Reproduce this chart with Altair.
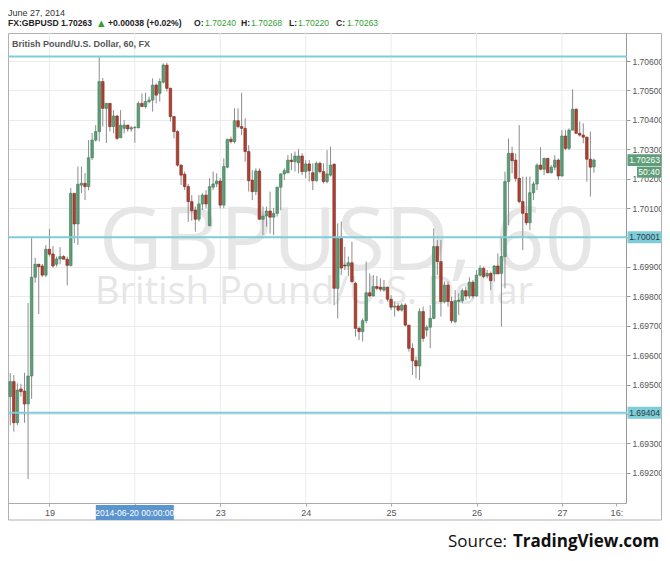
import altair as alt
import pandas as pd

# hourly candles, index = hours since 2014-06-19 00:00 (trading hours only)
hours = list(range(-11, 154))

opens = [
    1.69459, 1.69510, 1.69370, 1.69485, 1.69478, 1.69434, 1.69529, 1.69865, 1.69909, 1.69903, 1.69872,  # -11..-1
    1.69960, 1.69944, 1.69909, 1.69927, 1.69935, 1.69926, 1.69905, 1.70150, 1.70046, 1.70178,  # 0..9
    1.70184, 1.70173, 1.70271, 1.70331, 1.70360, 1.70530, 1.70439, 1.70456, 1.70377, 1.70413,  # 10..19
    1.70339, 1.70371, 1.70382, 1.70369, 1.70373, 1.70373, 1.70456, 1.70445, 1.70462, 1.70467,  # 20..29
    1.70518, 1.70490, 1.70528, 1.70586, 1.70507, 1.70411, 1.70360, 1.70246, 1.70215, 1.70173,  # 30..39
    1.70122, 1.70093, 1.70062, 1.70114, 1.70144, 1.70040, 1.70171, 1.70182, 1.70192, 1.70110,  # 40..49
    1.70239, 1.70334, 1.70326, 1.70397, 1.70377, 1.70371, 1.70292, 1.70195, 1.70156, 1.70226,  # 50..59
    1.70062, 1.70073, 1.70090, 1.70069, 1.70082, 1.70171, 1.70216, 1.70220, 1.70263, 1.70258,  # 60..69
    1.70254, 1.70277, 1.70224, 1.70250, 1.70220, 1.70193, 1.70252, 1.70224, 1.70190, 1.70212,  # 70..79
    1.70249, 1.69827, 1.69997, 1.69906, 1.69903, 1.69914, 1.69844, 1.69691, 1.69680, 1.69717,  # 80..89
    1.69812, 1.69801, 1.69833, 1.69831, 1.69821, 1.69831, 1.69790, 1.69763, 1.69767, 1.69753,  # 90..99
    1.69770, 1.69702, 1.69623, 1.69581, 1.69563, 1.69748, 1.69685, 1.69695, 1.69725, 1.69969,  # 100..109
    1.69918, 1.69782, 1.69838, 1.69782, 1.69714, 1.69782, 1.69785, 1.69819, 1.69801, 1.69848,  # 110..119
    1.69801, 1.69872, 1.69895, 1.69869, 1.69878, 1.69876, 1.69903, 1.69878, 1.69935, 1.70190,  # 120..129
    1.70286, 1.70263, 1.70201, 1.70122, 1.70082, 1.70050, 1.70152, 1.70182, 1.70246, 1.70232,  # 130..139
    1.70269, 1.70220, 1.70239, 1.70263, 1.70209, 1.70345, 1.70303, 1.70365, 1.70436, 1.70354,  # 140..149
    1.70348, 1.70341, 1.70266, 1.70240,  # 150..153
]

highs = [
    1.69539, 1.69532, 1.69504, 1.69502, 1.69540, 1.69777, 1.69998, 1.69931, 1.69910, 1.69910, 1.69974,
    1.70029, 1.69971, 1.69935, 1.69967, 1.69940, 1.69935, 1.70168, 1.70151, 1.70241, 1.70241,
    1.70219, 1.70331, 1.70355, 1.70382, 1.70615, 1.70542, 1.70457, 1.70457, 1.70433, 1.70416,
    1.70433, 1.70399, 1.70382, 1.70379, 1.70379, 1.70462, 1.70490, 1.70492, 1.70479, 1.70541,
    1.70524, 1.70541, 1.70592, 1.70594, 1.70510, 1.70413, 1.70365, 1.70248, 1.70224, 1.70182,
    1.70144, 1.70105, 1.70144, 1.70150, 1.70161, 1.70201, 1.70224, 1.70218, 1.70202, 1.70269,
    1.70334, 1.70343, 1.70439, 1.70439, 1.70492, 1.70405, 1.70314, 1.70229, 1.70235, 1.70235,
    1.70105, 1.70105, 1.70156, 1.70101, 1.70172, 1.70218, 1.70235, 1.70280, 1.70286, 1.70292,
    1.70300, 1.70286, 1.70263, 1.70263, 1.70252, 1.70258, 1.70258, 1.70252, 1.70297, 1.70309,
    1.70252, 1.70048, 1.70054, 1.69968, 1.69935, 1.69986, 1.69849, 1.69697, 1.69725, 1.69918,
    1.69878, 1.69872, 1.69869, 1.69861, 1.69855, 1.69833, 1.69804, 1.69782, 1.69776, 1.69776,
    1.69776, 1.69702, 1.69640, 1.69595, 1.69759, 1.69765, 1.69702, 1.69770, 1.70031, 1.69991,
    1.69991, 1.69850, 1.69850, 1.69799, 1.69821, 1.69810, 1.69827, 1.69833, 1.69865, 1.69855,
    1.69889, 1.69906, 1.69901, 1.69889, 1.69884, 1.69906, 1.69946, 1.70003, 1.70224, 1.70337,
    1.70309, 1.70286, 1.70382, 1.70207, 1.70207, 1.70207, 1.70190, 1.70252, 1.70307, 1.70271,
    1.70270, 1.70246, 1.70280, 1.70269, 1.70365, 1.70365, 1.70371, 1.70504, 1.70439, 1.70394,
    1.70388, 1.70343, 1.70360, 1.70268,
]

lows = [
    1.69362, 1.69340, 1.69362, 1.69459, 1.69370, 1.69179, 1.69451, 1.69846, 1.69740, 1.69865, 1.69865,
    1.69935, 1.69897, 1.69901, 1.69909, 1.69926, 1.69837, 1.69901, 1.69981, 1.69974, 1.70151,
    1.70127, 1.70161, 1.70263, 1.70326, 1.70326, 1.70377, 1.70321, 1.70360, 1.70355, 1.70331,
    1.70338, 1.70354, 1.70360, 1.70360, 1.70322, 1.70371, 1.70445, 1.70439, 1.70456, 1.70428,
    1.70456, 1.70462, 1.70524, 1.70496, 1.70394, 1.70337, 1.70241, 1.70178, 1.70161, 1.70053,
    1.70057, 1.70020, 1.70054, 1.70093, 1.70099, 1.70038, 1.70161, 1.70171, 1.70099, 1.70099,
    1.70235, 1.70320, 1.70320, 1.70371, 1.70348, 1.70258, 1.70156, 1.70127, 1.70144, 1.70060,
    1.70008, 1.70037, 1.70014, 1.70008, 1.70071, 1.70093, 1.70195, 1.70218, 1.70229, 1.70224,
    1.70218, 1.70212, 1.70201, 1.70190, 1.70161, 1.70190, 1.70218, 1.70184, 1.70184, 1.70207,
    1.69770, 1.69725, 1.69872, 1.69889, 1.69869, 1.69846, 1.69663, 1.69651, 1.69646, 1.69708,
    1.69799, 1.69799, 1.69821, 1.69816, 1.69816, 1.69782, 1.69753, 1.69731, 1.69748, 1.69748,
    1.69697, 1.69612, 1.69532, 1.69521, 1.69515, 1.69646, 1.69663, 1.69623, 1.69722, 1.69872,
    1.69731, 1.69776, 1.69765, 1.69708, 1.69708, 1.69736, 1.69776, 1.69787, 1.69793, 1.69793,
    1.69799, 1.69867, 1.69861, 1.69861, 1.69821, 1.69850, 1.69878, 1.69697, 1.69827, 1.70042,
    1.70218, 1.70190, 1.70116, 1.69957, 1.70042, 1.70025, 1.70127, 1.70161, 1.70229, 1.70212,
    1.70218, 1.70218, 1.70229, 1.70195, 1.70207, 1.70297, 1.70297, 1.70363, 1.70354, 1.70343,
    1.70320, 1.70190, 1.70139, 1.70220,
]

closes = [
    1.69510, 1.69370, 1.69481, 1.69476, 1.69434, 1.69529, 1.69865, 1.69909, 1.69901, 1.69872, 1.69960,
    1.69943, 1.69903, 1.69927, 1.69935, 1.69926, 1.69905, 1.70150, 1.70046, 1.70181, 1.70184,
    1.70173, 1.70271, 1.70331, 1.70360, 1.70530, 1.70439, 1.70456, 1.70377, 1.70413, 1.70337,
    1.70382, 1.70382, 1.70369, 1.70373, 1.70374, 1.70456, 1.70445, 1.70462, 1.70467, 1.70518,
    1.70484, 1.70530, 1.70586, 1.70507, 1.70411, 1.70360, 1.70246, 1.70212, 1.70173, 1.70122,
    1.70091, 1.70062, 1.70114, 1.70144, 1.70114, 1.70173, 1.70182, 1.70192, 1.70110, 1.70241,
    1.70334, 1.70326, 1.70397, 1.70377, 1.70371, 1.70292, 1.70193, 1.70156, 1.70226, 1.70062,
    1.70073, 1.70090, 1.70069, 1.70082, 1.70171, 1.70216, 1.70227, 1.70263, 1.70258, 1.70277,
    1.70277, 1.70224, 1.70250, 1.70227, 1.70193, 1.70252, 1.70224, 1.70190, 1.70216, 1.70246,
    1.69827, 1.69997, 1.69896, 1.69903, 1.69914, 1.69850, 1.69691, 1.69680, 1.69717, 1.69812,
    1.69801, 1.69833, 1.69827, 1.69824, 1.69831, 1.69790, 1.69763, 1.69767, 1.69753, 1.69770,
    1.69702, 1.69623, 1.69581, 1.69563, 1.69748, 1.69657, 1.69695, 1.69725, 1.69969, 1.69918,
    1.69782, 1.69838, 1.69782, 1.69717, 1.69785, 1.69787, 1.69819, 1.69801, 1.69848, 1.69801,
    1.69872, 1.69895, 1.69867, 1.69878, 1.69853, 1.69903, 1.69876, 1.69935, 1.70190, 1.70286,
    1.70261, 1.70201, 1.70122, 1.70082, 1.70050, 1.70152, 1.70182, 1.70246, 1.70232, 1.70269,
    1.70220, 1.70239, 1.70263, 1.70209, 1.70345, 1.70303, 1.70365, 1.70436, 1.70354, 1.70348,
    1.70341, 1.70266, 1.70239, 1.70263,
]

# day gridlines (hour index of each midnight)
day_starts = [0, 24, 48, 72, 96, 120, 144]
day_tick_values = [0, 24, 48, 72, 96, 120, 144, 159.3]
price_ticks = [1.692, 1.693, 1.694, 1.695, 1.696, 1.697, 1.698, 1.699,
               1.700, 1.701, 1.702, 1.703, 1.704, 1.705, 1.706]
level_lines = [1.70615, 1.70001, 1.69404]
level_labels = ["", "1.70001", "1.69404"]
last_price = 1.70263
countdown = "50:40"

df = pd.DataFrame({"i": hours, "o": opens, "h": highs, "l": lows, "c": closes})

GREEN = "#5e9d78"
GREEN_EDGE = "#3d7a57"
RED = "#ac4233"
RED_EDGE = "#82281c"
CYAN = "#7ecdd9"
FONT = "Liberation Sans"

xs = alt.Scale(domain=[-10.23, 160.6], nice=False, zero=False)
ys = alt.Scale(domain=[1.690972, 1.706952], nice=False, zero=False)

xaxis = alt.Axis(
    values=day_tick_values,
    labelExpr="datum.value==0?'19':datum.value==24?'':datum.value==48?'23':datum.value==72?'24':datum.value==96?'25':datum.value==120?'26':datum.value==144?'27':'16:'",
    grid=False, tickSize=3, labelPadding=2, labelFontSize=9, labelColor="#555",
    labelFont=FONT, domainColor="#aaa", tickColor="#aaa", title=None,
    labelFlush=False, labelOverlap=False,
)
yaxis = alt.Axis(
    orient="right", values=price_ticks, format=".5f", grid=True, gridColor="#ebebeb",
    tickSize=4, labelPadding=2, labelFontSize=8.5, labelColor="#555", labelFont=FONT,
    domainColor="#999", tickColor="#999", title=None, labelOverlap=False,
    labelFlush=False,
)

X = lambda f: alt.X(f, scale=xs, axis=xaxis)
Y = lambda f: alt.Y(f, scale=ys, axis=yaxis)

one = pd.DataFrame({"k": [0]})

# chart frame (outline only)
frame = alt.Chart(one).mark_rect(fillOpacity=0, stroke="#b0b0b0", strokeWidth=1).encode(
    x=alt.value(0.5), x2=alt.value(653.5), y=alt.value(0.5), y2=alt.value(487)
)

# vertical day gridlines
vgrid = alt.Chart(pd.DataFrame({"d": day_starts})).mark_rule(color="#ebebeb", strokeWidth=1).encode(
    x=X("d:Q"), y=alt.value(0), y2=alt.value(470)
)

# watermark
wm1 = alt.Chart(one).mark_text(
    text="GBPUSD, 60", font="Open Sans", fontSize=88, color="#e6e6e6",
    align="center", baseline="alphabetic"
).encode(x=alt.value(339), y=alt.value(237))
wm2 = alt.Chart(one).mark_text(
    text="British Pound/U.S. Dollar", font="Open Sans", fontSize=38, color="#e6e6e6",
    align="center", baseline="alphabetic"
).encode(x=alt.value(306), y=alt.value(271))

wicks = alt.Chart(df).mark_rule(color="#8c8c8c", strokeWidth=1, clip=True).encode(
    x=X("i:Q"), y=Y("l:Q"), y2="h:Q"
)
is_up = "datum.c >= datum.o"
bodies = alt.Chart(df).mark_bar(size=2.6, strokeWidth=0.6, clip=True).encode(
    x=X("i:Q"), y=Y("o:Q"), y2="c:Q",
    fill=alt.condition(is_up, alt.value(GREEN), alt.value(RED)),
    stroke=alt.condition(is_up, alt.value(GREEN_EDGE), alt.value(RED_EDGE)),
)

levels_df = pd.DataFrame({"p": level_lines, "lab": level_labels})
levels = alt.Chart(levels_df).mark_rule(color=CYAN, strokeWidth=2).encode(
    y=Y("p:Q"), x=alt.value(0), x2=alt.value(619)
)

box_path = "M-1,-0.35L1,-0.35L1,0.35L-1,0.35Z"
BOXW = 34
BOXX = 636.5
lab_df = levels_df[levels_df["lab"] != ""]
level_boxes = alt.Chart(lab_df).mark_point(shape=box_path, filled=True, size=BOXW * BOXW, color=CYAN, opacity=1).encode(
    y=Y("p:Q"), x=alt.value(BOXX)
)
level_text = alt.Chart(lab_df).mark_text(fontSize=8.5, font=FONT, color="#2a3a40", align="center", baseline="middle").encode(
    y=Y("p:Q"), x=alt.value(BOXX), text="lab:N"
)

last_df = pd.DataFrame({"p": [last_price], "lab": [f"{last_price:.5f}"], "cd": [countdown]})
last_box = alt.Chart(last_df).mark_point(shape=box_path, filled=True, size=BOXW * BOXW, color="#5e9d78", opacity=1).encode(
    y=Y("p:Q"), x=alt.value(BOXX)
)
last_text = alt.Chart(last_df).mark_text(fontSize=8.5, font=FONT, color="white", align="center", baseline="middle").encode(
    y=Y("p:Q"), x=alt.value(BOXX), text="lab:N"
)
cd_path = "M-1,-0.46L1,-0.46L1,0.46L-1,0.46Z"
cd_box = alt.Chart(last_df).mark_point(shape=cd_path, filled=True, size=24 * 24, color="#5e9d78", opacity=1).encode(
    y=Y("p:Q"), x=alt.value(641), yOffset=alt.value(12)
)
cd_text = alt.Chart(last_df).mark_text(fontSize=8.5, font=FONT, color="white", align="center", baseline="middle", dy=12).encode(
    y=Y("p:Q"), x=alt.value(641), text="cd:N"
)

# date label box on x axis
date_df = pd.DataFrame({"d": [24], "lab": ["2014-06-20 00:00:00"]})
date_path = "M-1,-0.19L1,-0.19L1,0.19L-1,0.19Z"
date_box = alt.Chart(date_df).mark_point(shape=date_path, filled=True, size=78 * 78, color="#5b95cf", opacity=1).encode(
    x=X("d:Q"), y=alt.value(479.5)
)
date_text = alt.Chart(date_df).mark_text(fontSize=8.5, font=FONT, color="white", align="center", baseline="middle").encode(
    x=X("d:Q"), y=alt.value(479.5), text="lab:N"
)

def txt(s, x, y, size=8.6, weight="bold", color="#222", align="left", font=FONT, baseline="middle"):
    return alt.Chart(one).mark_text(
        text=s, fontSize=size, fontWeight=weight, color=color, align=align, font=font, baseline=baseline
    ).encode(x=alt.value(x), y=alt.value(y))

HG = "#35a035"
HY = -10.5
header = [
    txt("June 27, 2014", 0, -20.5, size=9, weight="normal", color="#333"),
    txt("FX:GBPUSD", 0, HY),
    txt("1.70263", 53, HY),
    txt("\u25b2", 90, HY, color=HG, weight="normal", font="DejaVu Sans", size=8.5),
    txt("+0.00038 (+0.02%)", 100, HY),
    txt("O:", 186, HY),
    txt("1.70240", 197, HY, color=HG, weight="normal"),
    txt("H:", 233, HY),
    txt("1.70268", 243, HY, color=HG, weight="normal"),
    txt("L:", 281, HY),
    txt("1.70220", 290, HY, color=HG, weight="normal"),
    txt("C:", 328, HY),
    txt("1.70263", 339, HY, color=HG, weight="normal"),
    txt("British Pound/U.S. Dollar, 60, FX", 4, 11, size=9, color="#555"),
    txt("Source:", 499, 514, size=17, weight="normal", color="#111", align="right", font="Open Sans", baseline="alphabetic"),
    txt("TradingView.com", 505, 514, size=17, weight="bold", color="#111", align="left", font="Open Sans", baseline="alphabetic"),
]

chart = alt.layer(
    frame, vgrid, wm1, wm2, wicks, bodies, levels, level_boxes, level_text,
    last_box, last_text, cd_box, cd_text, date_box, date_text, *header
).properties(
    width=618, height=470,
    padding={"left": 0, "top": 25, "right": 36, "bottom": 50},
    autosize=alt.AutoSizeParams(type="none"),
    background="white",
).configure_view(stroke=None)

chart.save("out.html", embed_options={"renderer": "svg", "actions": False})
